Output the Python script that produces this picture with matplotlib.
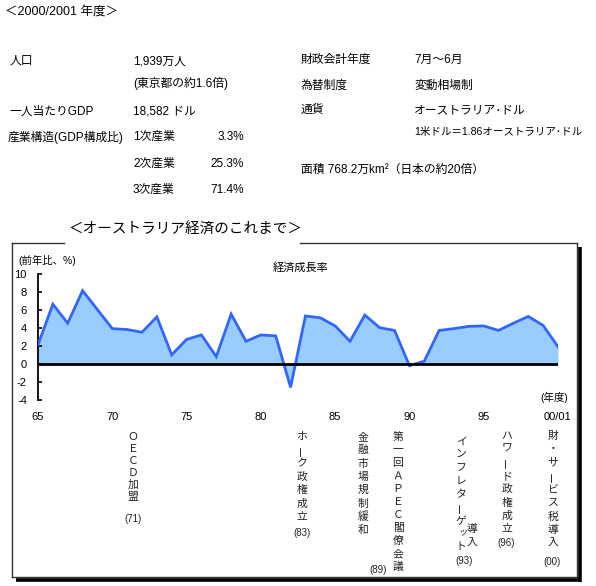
import matplotlib
matplotlib.use("Agg")
import matplotlib.pyplot as plt
from matplotlib.lines import Line2D

plt.rcParams['font.family'] = ['Liberation Sans', 'Noto Sans CJK JP', 'DejaVu Sans']

# ---------------- data ----------------
years = list(range(1965, 2001))
growth = [2.1, 6.6, 4.5, 8.1, 6.0, 3.9, 3.8, 3.5, 5.2, 1.0,
          2.7, 3.2, 0.8, 5.5, 2.5, 3.2, 3.1, -2.6, 5.3, 5.1,
          4.2, 2.5, 5.4, 4.0, 3.7, -0.2, 0.3, 3.7, 3.9, 4.15,
          4.2, 3.7, 4.5, 5.25, 4.25, 1.9]
xtick_years = [1965, 1970, 1975, 1980, 1985, 1990, 1995, 2000]
xtick_labels = ['65', '70', '75', '80', '85', '90', '95', '00/01']
ytick_vals = [-4, -2, 0, 2, 4, 6, 8, 10]

W, H = 596, 586
fig = plt.figure(figsize=(W / 100, H / 100), dpi=100)

# background overlay axes in pixel coordinates
bg = fig.add_axes([0, 0, 1, 1], zorder=0)
bg.set_xlim(0, W)
bg.set_ylim(H, 0)
bg.axis('off')

FS = 8.5

def T(x, y, s, size=FS, ha='left', **kw):
    bg.text(x, y, s, fontsize=size, ha=ha, va='center', **kw)

# ---------------- header texts ----------------
T(5, 12, '＜2000/2001 年度＞', size=9)

T(10, 61, '人口')
T(133, 61, '1,939万人')
T(133, 83, '(東京都の約1.6倍)')
T(10, 112, '一人当たりGDP')
T(133, 112, '18,582 ドル')
T(8, 137, '産業構造(GDP構成比)')
T(133, 137, '1次産業')
T(244, 137, '3.3%', ha='right')
T(133, 164, '2次産業')
T(244, 164, '25.3%', ha='right')
T(133, 190, '3次産業')
T(244, 190, '71.4%', ha='right')

T(301, 60, '財政会計年度')
T(414, 60, '7月～6月')
T(301, 86, '為替制度')
T(414, 86, '変動相場制')
T(301, 110, '通貨')
T(414, 110, 'オーストラリア･ドル')
T(414, 132, '1米ドル＝1.86オーストラリア･ドル', size=7.6)
T(301, 170, '面積 768.2万km²（日本の約20倍）')

# ---------------- frame ----------------
frame_c = '#333333'
for (x0, y0, x1, y1) in [(12, 243, 64, 243), (300, 243, 577, 243),
                         (12, 243, 12, 577), (12, 577, 577, 577),
                         (577, 243, 577, 577)]:
    bg.add_line(Line2D([x0, x1], [y0, y1], color=frame_c, lw=1.0))
bg.add_line(Line2D([579.5, 579.5], [247, 581.5], color='black', lw=2.6, solid_capstyle='butt'))
bg.add_line(Line2D([16, 581], [579.8, 579.8], color='black', lw=2.6, solid_capstyle='butt'))

T(185, 229, '＜オーストラリア経済のこれまで＞', size=10.5, ha='center')

# ---------------- chart ----------------
ax_l, ax_r, ax_t, ax_b = 38, 558, 273.5, 400
ax = fig.add_axes([ax_l / W, 1 - ax_b / H, (ax_r - ax_l) / W, (ax_b - ax_t) / H], zorder=2)
ax.patch.set_visible(False)
ax.set_xlim(years[0], years[-1])
ax.set_ylim(-4, 10)
ax.fill_between(years, growth, 0, color='#99CCFF', lw=0, zorder=1)
ax.plot(years, growth, color='#3366FF', lw=2.0, zorder=3, solid_joinstyle='miter')
ax.axhline(0, color='black', lw=2.0, zorder=4)

for s in ['top', 'right', 'bottom']:
    ax.spines[s].set_visible(False)
ax.spines['left'].set_linewidth(1.3)
ax.spines['left'].set_color('black')
ax.set_yticks(ytick_vals)
ax.set_yticklabels([str(v) for v in ytick_vals], fontsize=8)
ax.tick_params(axis='y', direction='in', length=3, width=1.2, pad=8)
ax.set_xticks(xtick_years)
ax.set_xticklabels(xtick_labels, fontsize=8)
ax.tick_params(axis='x', length=0, pad=9)

T(18, 260, '(前年比、%)', size=7.5)
T(300, 267, '経済成長率', size=8, ha='center')
T(554, 397, '(年度)', size=7.5, ha='center')

# ---------------- vertical annotations ----------------
AS = 7.8
small = 'ッィャュョ'

def vtext(x, y0, s, step, size=AS):
    y = y0
    for ch in s:
        dx, dy, rot, sz = 0, 0, 0, size
        if ch == 'ー':
            rot = 90
        if ch in small:
            dx, dy, sz = 1.5, -1.5, size * 0.85
        bg.text(x + dx, y + dy, ch, fontsize=sz, ha='center', va='center',
                rotation=rot, color='#222222')
        y += step

vtext(133, 437, 'ＯＥＣＤ加盟', 12)
T(133, 519, '(71)', size=7, ha='center', color='#222222')

vtext(302, 437, 'ホーク政権成立', 13.3)
T(302, 533, '(83)', size=7, ha='center', color='#222222')

vtext(363, 437, '金融市場規制緩和', 13.3)

vtext(398, 437, '第一回ＡＰＥＣ閣僚会議', 13.0)
T(378, 570, '(89)', size=7, ha='center', color='#222222')

vtext(461, 442, 'インフレターゲット', 13.1)
vtext(472, 529, '導入', 13.5)
T(464, 561, '(93)', size=7, ha='center', color='#222222')

vtext(507, 436, 'ハワード政権成立', 13.3)
T(506, 543, '(96)', size=7, ha='center', color='#222222')

vtext(553, 436, '財・サービス税導入', 13.4)
T(552, 562, '(00)', size=7, ha='center', color='#222222')

fig.savefig('out.png', dpi=100)
